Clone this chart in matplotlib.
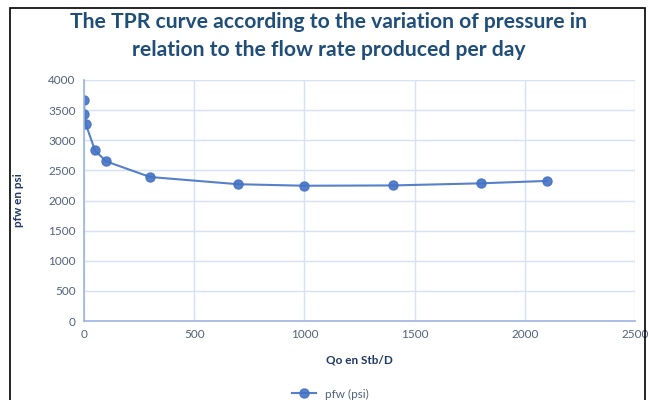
import matplotlib.pyplot as plt
from matplotlib.patches import Rectangle

qo = [0, 2, 8, 50, 100, 300, 700, 1000, 1400, 1800, 2100]
pfw = [3660, 3440, 3270, 2830, 2650, 2390, 2270, 2245, 2250, 2285, 2325]

plt.rcParams['font.family'] = ['Lato', 'DejaVu Sans']

fig = plt.figure(figsize=(6.48, 4.0), dpi=100)
ax = fig.add_axes([0.1296, 0.1975, 0.8504, 0.6025])

blue = '#4472c4'
ax.plot(qo, pfw, color=blue, marker='o', markersize=6.5, linewidth=1.5,
        alpha=0.9, label='pfw (psi)')

ax.set_xlim(0, 2500)
ax.set_ylim(0, 4000)
ax.set_xticks(range(0, 2501, 500))
ax.set_yticks(range(0, 4001, 500))
ax.grid(True, color='#d6e2f3', linewidth=1)
ax.set_axisbelow(True)
for s in ['top', 'right']:
    ax.spines[s].set_visible(False)
for s in ['left', 'bottom']:
    ax.spines[s].set_color('#9db5e0')
    ax.spines[s].set_linewidth(1.2)
ax.tick_params(length=0, colors='#51627a', labelsize=8.5, pad=6)

ax.set_xlabel('Qo en Stb/D', fontsize=8.5, fontweight='bold', color='#1f3864', labelpad=10)
fig.text(0.028, 0.5, 'pfw en psi', rotation=90, fontsize=8.5, fontweight='bold',
         color='#1f3864', ha='center', va='center')

fig.text(0.507, 0.945, 'The TPR curve according to the variation of pressure in',
         fontsize=15.2, fontweight='bold', color='#1f4e79', ha='center', va='center')
fig.text(0.507, 0.875, 'relation to the flow rate produced per day',
         fontsize=15.2, fontweight='bold', color='#1f4e79', ha='center', va='center')

fig.legend(loc='center', bbox_to_anchor=(0.51, 0.015), frameon=False, fontsize=8.5,
           labelcolor='#51627a', handlelength=2.0)

fig.patches.append(Rectangle((10 / 648, -0.1), 635 / 648, 1.08, transform=fig.transFigure,
                             fill=False, edgecolor='black', linewidth=1.2))

fig.savefig('out.png', dpi=100)
